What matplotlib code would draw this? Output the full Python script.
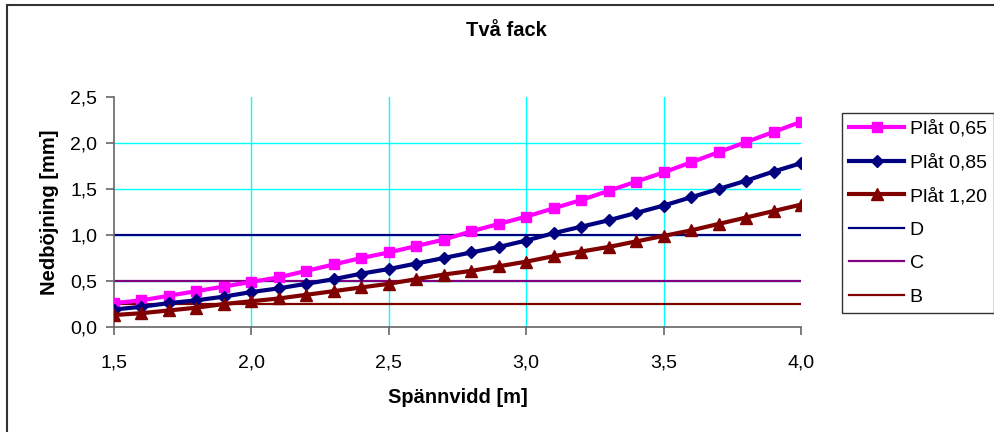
import matplotlib.pyplot as plt
from matplotlib.ticker import FuncFormatter
from matplotlib.patches import Rectangle

plt.rcParams['font.family'] = ['Liberation Sans', 'DejaVu Sans']

# spännvidd [m]
spann = [1.5, 1.6, 1.7, 1.8, 1.9, 2.0, 2.1, 2.2, 2.3, 2.4, 2.5, 2.6, 2.7,
         2.8, 2.9, 3.0, 3.1, 3.2, 3.3, 3.4, 3.5, 3.6, 3.7, 3.8, 3.9, 4.0]
plat065 = [0.26, 0.29, 0.34, 0.39, 0.44, 0.49, 0.54, 0.61, 0.68, 0.75, 0.81, 0.88, 0.95,
           1.04, 1.12, 1.20, 1.29, 1.38, 1.48, 1.58, 1.68, 1.79, 1.90, 2.01, 2.12, 2.23]
plat085 = [0.19, 0.22, 0.26, 0.29, 0.33, 0.38, 0.42, 0.47, 0.52, 0.58, 0.63, 0.69, 0.75,
           0.81, 0.87, 0.94, 1.02, 1.09, 1.16, 1.24, 1.32, 1.41, 1.50, 1.59, 1.69, 1.78]
plat120 = [0.13, 0.15, 0.18, 0.21, 0.25, 0.28, 0.31, 0.35, 0.39, 0.43, 0.47, 0.52, 0.57,
           0.61, 0.66, 0.71, 0.77, 0.82, 0.87, 0.93, 0.99, 1.05, 1.12, 1.19, 1.26, 1.33]
# gränsvärden
D = 1.0
C = 0.5
B = 0.25

xticks = [1.5, 2.0, 2.5, 3.0, 3.5, 4.0]
yticks = [0.0, 0.5, 1.0, 1.5, 2.0, 2.5]

fig = plt.figure(figsize=(9.94, 4.32), dpi=100)
ax = fig.add_axes([114/994, 1-327/432, (801-114)/994, (327-97)/432])

# ram runt hela diagrammet
fig.patches.append(Rectangle((7/994, -0.1), 1.2, 1-5/432+0.1, transform=fig.transFigure,
                             fill=False, edgecolor='#333333', linewidth=1.5))

for xv in xticks[1:-1]:
    ax.axvline(xv, color='#00FFFF', linewidth=1, zorder=0)
for yv in yticks[1:-1]:
    ax.axhline(yv, color='#00FFFF', linewidth=1, zorder=0)

l1, = ax.plot(spann, plat065, color='#FF00FF', linewidth=3, marker='s', markersize=7.5, zorder=3, label='Plåt 0,65')
l2, = ax.plot(spann, plat085, color='#000080', linewidth=3, marker='D', markersize=6.5, zorder=4, label='Plåt 0,85')
l3, = ax.plot(spann, plat120, color='#800000', linewidth=3, marker='^', markersize=8, zorder=5, label='Plåt 1,20')
l4, = ax.plot(spann, [D]*len(spann), color='#000080', linewidth=1.6, zorder=2, label='D')
l5, = ax.plot(spann, [C]*len(spann), color='#800080', linewidth=1.6, zorder=2, label='C')
l6, = ax.plot(spann, [B]*len(spann), color='#800000', linewidth=1.6, zorder=2, label='B')

ax.set_xlim(1.5, 4.0)
ax.set_ylim(0, 2.5)
ax.set_xticks(xticks)
ax.set_yticks(yticks)
fmt = FuncFormatter(lambda v, p: f'{v:.1f}'.replace('.', ','))
ax.xaxis.set_major_formatter(fmt)
ax.yaxis.set_major_formatter(fmt)
ax.tick_params(labelsize=14, length=6, color='#666666', width=1.2)
ax.tick_params(axis='x', pad=14)
ax.tick_params(axis='y', pad=6)
for s in ['top', 'right']:
    ax.spines[s].set_visible(False)
for s in ['left', 'bottom']:
    ax.spines[s].set_color('#666666')
    ax.spines[s].set_linewidth(1.2)

ax.set_xlabel('Spännvidd [m]', fontsize=14.5, fontweight='bold', labelpad=12)
ax.set_ylabel('Nedböjning [mm]', fontsize=14.5, fontweight='bold', labelpad=8)
fig.text(506/994, 1-30/432, 'Två fack', fontsize=14.5, fontweight='bold', ha='center', va='center')

leg = fig.legend(handles=[l1, l2, l3, l4, l5, l6], loc='upper left',
                 bbox_to_anchor=(842/994, 1-113/432), fontsize=14, frameon=True,
                 fancybox=False, edgecolor='black', handlelength=2.8, handletextpad=0.3,
                 labelspacing=0.82, borderpad=0.38, borderaxespad=0)
leg.get_frame().set_linewidth(1)

fig.savefig('out.png', dpi=100)
